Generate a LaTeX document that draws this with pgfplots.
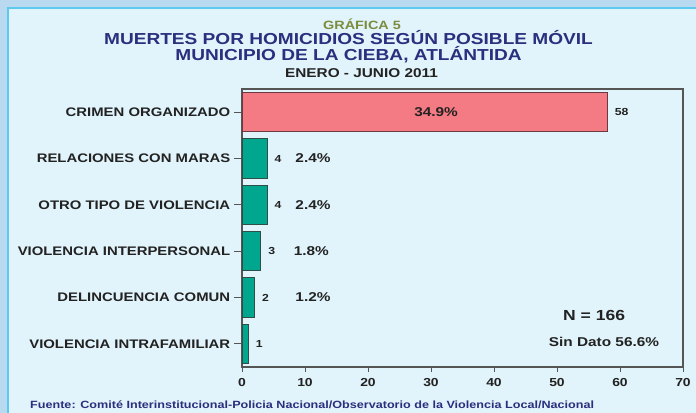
\documentclass[border=0pt]{standalone}
\usepackage{fontspec}
\setmainfont{Liberation Sans}[FakeStretch=1.2]
\usepackage{pgfplots}
\pgfplotsset{compat=1.18}
\definecolor{outerbg}{HTML}{B9D9F0}
\definecolor{panelbg}{HTML}{E1F4FB}
\definecolor{panelline}{HTML}{5CC9EE}
\definecolor{navy}{HTML}{2B2F7E}
\definecolor{olive}{HTML}{7D8B3C}
\definecolor{redbar}{HTML}{F47A83}
\definecolor{rededge}{HTML}{6A3A40}
\definecolor{greenbar}{HTML}{00A68E}
\definecolor{greenedge}{HTML}{2D4F47}
\definecolor{txt}{HTML}{222222}
\definecolor{frame}{HTML}{555555}
\begin{document}
\begin{tikzpicture}
\useasboundingbox (0,0) rectangle (696bp,413bp);
\fill[outerbg] (0,0) rectangle (696bp,413bp);
\fill[panelbg] (8bp,0) rectangle (696bp,405bp);
\draw[panelline,line width=1.2bp] (8bp,0) -- (8bp,405bp) -- (696bp,405bp);
% titles
\node[font=\fontsize{12bp}{13bp}\selectfont\bfseries,text=olive,inner sep=0pt] at (362bp,389bp) {GRÁFICA 5};
\node[font=\fontsize{15.9bp}{15.5bp}\selectfont\bfseries,text=navy,align=center,inner sep=0pt] at (348.5bp,366.5bp) {MUERTES POR HOMICIDIOS SEGÚN POSIBLE MÓVIL\\MUNICIPIO DE LA CIEBA, ATLÁNTIDA};
\node[font=\fontsize{12.8bp}{14bp}\selectfont\bfseries,text=txt,inner sep=0pt] at (361.5bp,339.5bp) {ENERO - JUNIO 2011};
\node[font=\fontsize{10.5bp}{11bp}\selectfont\bfseries,text=navy,anchor=west,inner sep=0pt] at (30bp,8bp) {Fuente: Comité Interinstitucional-Policia Nacional/Observatorio de la Violencia Local/Nacional};
\begin{axis}[
  at={(242bp,46bp)}, anchor=south west,
  width=441bp, height=278bp, scale only axis,
  xmin=0, xmax=70, ymin=-0.5, ymax=5.5,
  xtick={0,10,...,70},
  ytick={0,1,2,3,4,5},
  yticklabels={VIOLENCIA INTRAFAMILIAR,DELINCUENCIA COMUN,VIOLENCIA INTERPERSONAL,OTRO TIPO DE VIOLENCIA,RELACIONES CON MARAS,CRIMEN ORGANIZADO},
  tick align=outside,
  xtick style={draw=frame,line width=0.8bp,/pgfplots/major tick length=5bp},
  ytick style={draw=frame,line width=0.8bp,/pgfplots/major tick length=8bp},
  x tick label style={font=\fontsize{11.6bp}{12bp}\selectfont\bfseries,text=txt,yshift=-3.5bp},
  y tick label style={font=\fontsize{12.4bp}{13bp}\selectfont\bfseries,text=txt,xshift=-4bp},
  /pgf/number format/assume math mode=true,
  axis line style={draw=frame,line width=1.1bp},
  tick pos=left,
  clip=false,
  axis background/.style={fill=panelbg},
  point meta=x,
  nodes near coords,
  nodes near coords style={font=\fontsize{10.2bp}{11bp}\selectfont\bfseries,text=txt,anchor=west,inner sep=0pt,xshift=7bp},
]
\addplot[xbar, bar shift=0pt, bar width=0.85, fill=redbar, draw=rededge, line width=0.9bp] coordinates {(58,5)};
\addplot[xbar, bar shift=0pt, bar width=0.85, fill=greenbar, draw=greenedge, line width=0.9bp] coordinates {(4,4) (4,3) (3,2) (2,1) (1,0)};
\node[font=\fontsize{12.8bp}{14bp}\selectfont\bfseries,text=txt] at (axis cs:30.8,5) {34.9\%};
\node[font=\fontsize{12.8bp}{14bp}\selectfont\bfseries,text=txt] at (axis cs:11.27,4) {2.4\%};
\node[font=\fontsize{12.8bp}{14bp}\selectfont\bfseries,text=txt] at (axis cs:11.27,3) {2.4\%};
\node[font=\fontsize{12.8bp}{14bp}\selectfont\bfseries,text=txt] at (axis cs:11.0,2) {1.8\%};
\node[font=\fontsize{12.8bp}{14bp}\selectfont\bfseries,text=txt] at (axis cs:11.27,1) {1.2\%};
\node[font=\fontsize{14.6bp}{16bp}\selectfont\bfseries,text=txt] at (axis cs:55.9,0.607) {N = 166};
\node[font=\fontsize{12.8bp}{14bp}\selectfont\bfseries,text=txt] at (axis cs:57.46,0.046) {Sin Dato 56.6\%};
\end{axis}
\end{tikzpicture}
\end{document}
